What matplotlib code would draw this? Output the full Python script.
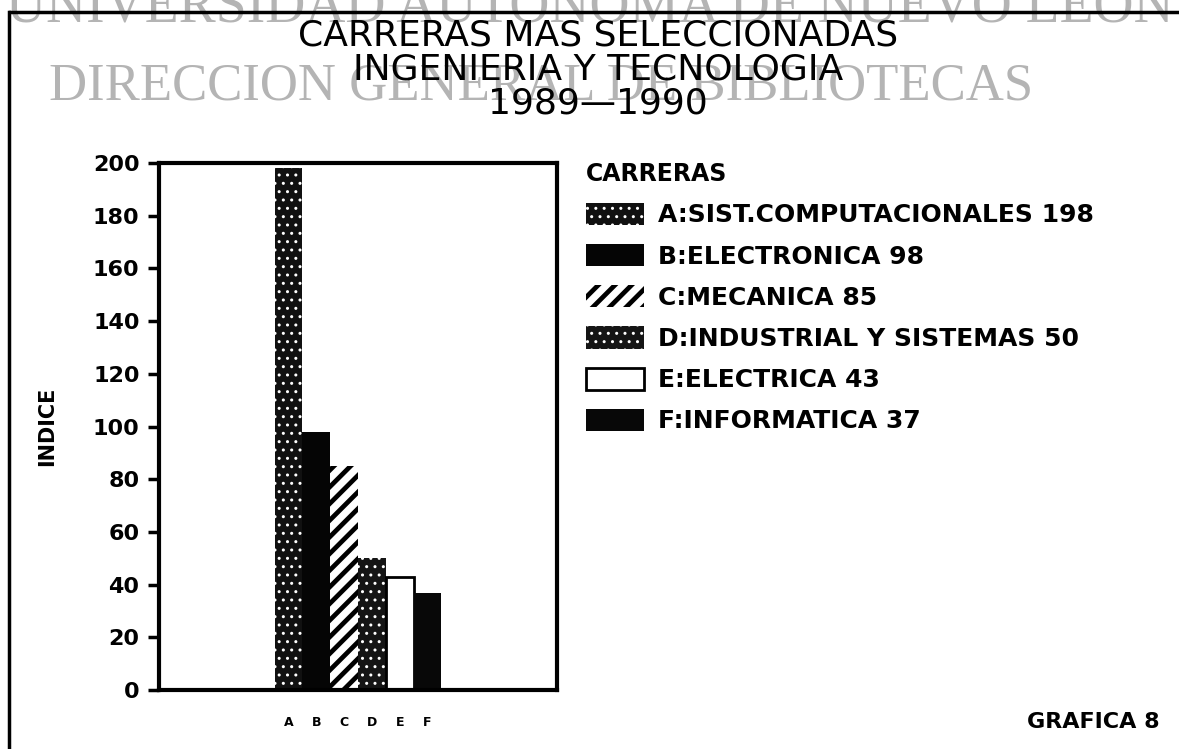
import matplotlib
matplotlib.use("Agg")
import matplotlib.pyplot as plt
from matplotlib.lines import Line2D

# ------------------------------------------------------------------
# DATI
# ------------------------------------------------------------------
letras = ["A", "B", "C", "D", "E", "F"]
carreras = ["SIST.COMPUTACIONALES", "ELECTRONICA", "MECANICA",
            "INDUSTRIAL Y SISTEMAS", "ELECTRICA", "INFORMATICA"]
indice = [198, 98, 85, 50, 43, 37]
yticks = list(range(0, 201, 20))

titulo = "CARRERAS MAS SELECCIONADAS\nINGENIERIA Y TECNOLOGIA\n1989\u20141990"

# stile barre: (facecolor, hatch colour, hatch, hatch linewidth)
estilos = [
    ("#111111", "white", "..", 1.0),
    ("#050505", "#050505", None, 1.0),
    ("white", "black", "//", 3.4),
    ("#151515", "white", "..", 1.0),
    ("white", "black", None, 1.0),
    ("#080808", "#080808", None, 1.0),
]

W, H = 1179, 749
fig = plt.figure(figsize=(W / 100, H / 100), dpi=100)

# ------------------------------------------------------------------
# marca d'acqua e cornice
# ------------------------------------------------------------------
fig.text(0.5, 1 - 22 / H, "UNIVERSIDAD AUTONOMA DE NUEVO LEON",
         ha="center", va="baseline", fontsize=40, color="#b4b4b4",
         family="Liberation Serif", zorder=0)
fig.text(541 / W, 1 - 100 / H, "DIRECCION GENERAL DE BIBLIOTECAS",
         ha="center", va="baseline", fontsize=38, color="#b4b4b4",
         family="Liberation Serif", zorder=0)
fig.add_artist(Line2D([10 / W, 1.0], [1 - 12 / H, 1 - 12 / H], color="black", lw=2.5))
fig.add_artist(Line2D([9 / W, 9 / W], [1 - 12 / H, 0.0], color="black", lw=2.5))

# titolo
fig.text(598 / W, 1 - 69 / H, titulo, ha="center", va="center",
         fontsize=26, linespacing=1.0, color="black")

# ------------------------------------------------------------------
# GRAFICO
# ------------------------------------------------------------------
ax = fig.add_axes([159 / W, 1 - 690 / H, 398 / W, 527 / H])
x = list(range(len(indice)))
handles = []
etichette = []
for i, (v, (fc, hc, hatch, hlw)) in enumerate(zip(indice, estilos)):
    with plt.rc_context({"hatch.linewidth": hlw}):
        b = ax.bar(x[i], v, width=1.0, color=fc, edgecolor=hc, hatch=hatch,
                   linewidth=0 if i != 4 else 2)
    if i == 4:
        b[0].set_edgecolor("black")
    handles.append(b[0])
    etichette.append(f"{letras[i]}:{carreras[i]} {v}")

ax.set_xlim(-4.65, 9.65)
ax.set_ylim(0, 200)
ax.set_yticks(yticks)
ax.set_yticklabels([str(t) for t in yticks], fontsize=16, fontweight="bold")
ax.set_xticks(x)
ax.set_xticklabels(letras, fontsize=9, fontweight="bold")
ax.tick_params(axis="y", direction="out", length=8, width=2.5, pad=6)
ax.tick_params(axis="x", length=0, pad=19)
for s in ax.spines.values():
    s.set_linewidth(3)
ax.set_ylabel("INDICE", fontsize=15, fontweight="bold", labelpad=26)

# legenda
leg = fig.legend(handles=handles, labels=etichette, loc="upper left",
                 bbox_to_anchor=(576 / W, 1 - 152 / H),
                 title="CARRERAS", title_fontproperties={"size": 17, "weight": "bold"},
                 alignment="left", frameon=False,
                 prop={"size": 18, "weight": "bold"},
                 handlelength=2.3, handleheight=1.0, handletextpad=0.6,
                 labelspacing=0.66, borderaxespad=0)
for h, (fc, hc, hatch, hlw) in zip(leg.legend_handles, estilos):
    if hasattr(h, "set_hatch_linewidth"):
        h.set_hatch_linewidth(hlw)

fig.text(1160 / W, 1 - 722 / H, "GRAFICA 8", ha="right", va="center",
         fontsize=16, fontweight="bold")

fig.savefig("out.png", dpi=100)
